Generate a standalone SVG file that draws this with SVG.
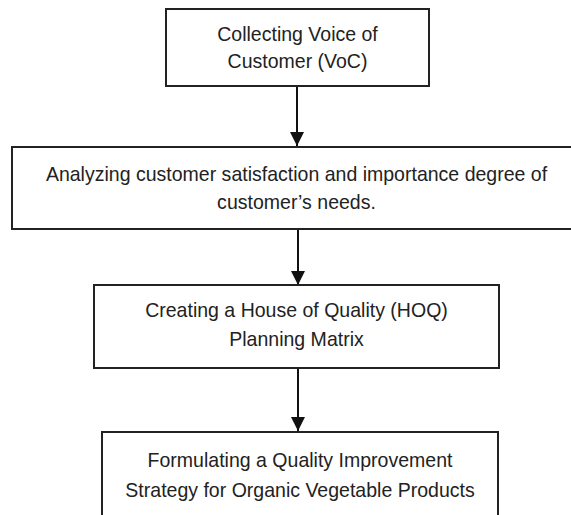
<svg xmlns="http://www.w3.org/2000/svg" width="571" height="515" viewBox="0 0 571 515">
<style>
.box{fill:#fff;stroke:#222;stroke-width:2}
.t{font-family:"Liberation Sans",Arial,sans-serif;font-size:21px;fill:#222;text-anchor:middle}
.c{stroke:#111;stroke-width:2;fill:none}
</style>
<defs>
<marker id="ah" viewBox="0 0 14 16" refX="14" refY="8" markerWidth="14" markerHeight="16" markerUnits="userSpaceOnUse" orient="auto">
<path d="M0,1 L14,8 L0,15 z" fill="#111"/>
</marker>
</defs>
<rect width="571" height="515" fill="#fff"/>
<g id="connectors">
<line class="c" x1="297" y1="87" x2="297" y2="146" marker-end="url(#ah)"/>
<line class="c" x1="298" y1="230" x2="298" y2="285" marker-end="url(#ah)"/>
<line class="c" x1="298" y1="369" x2="298" y2="431" marker-end="url(#ah)"/>
</g>
<g id="n1">
<rect class="box" x="166" y="9" width="263" height="77"/>
<text class="t" transform="translate(297.5,41) scale(0.93,1)">Collecting Voice of</text>
<text class="t" transform="translate(297.5,68) scale(0.93,1)">Customer (VoC)</text>
</g>
<g id="n2">
<rect class="box" x="12" y="147" width="570" height="82"/>
<text class="t" transform="translate(296.5,181) scale(0.93,1)">Analyzing customer satisfaction and importance degree of</text>
<text class="t" transform="translate(296.5,209) scale(0.93,1)">customer’s needs.</text>
</g>
<g id="n3">
<rect class="box" x="94" y="285" width="405" height="83"/>
<text class="t" transform="translate(296.5,317) scale(0.93,1)">Creating a House of Quality (HOQ)</text>
<text class="t" transform="translate(296.5,346) scale(0.93,1)">Planning Matrix</text>
</g>
<g id="n4">
<rect class="box" x="102" y="432" width="396" height="90"/>
<text class="t" transform="translate(300,467) scale(0.93,1)">Formulating a Quality Improvement</text>
<text class="t" transform="translate(300,497) scale(0.93,1)">Strategy for Organic Vegetable Products</text>
</g>
</svg>
